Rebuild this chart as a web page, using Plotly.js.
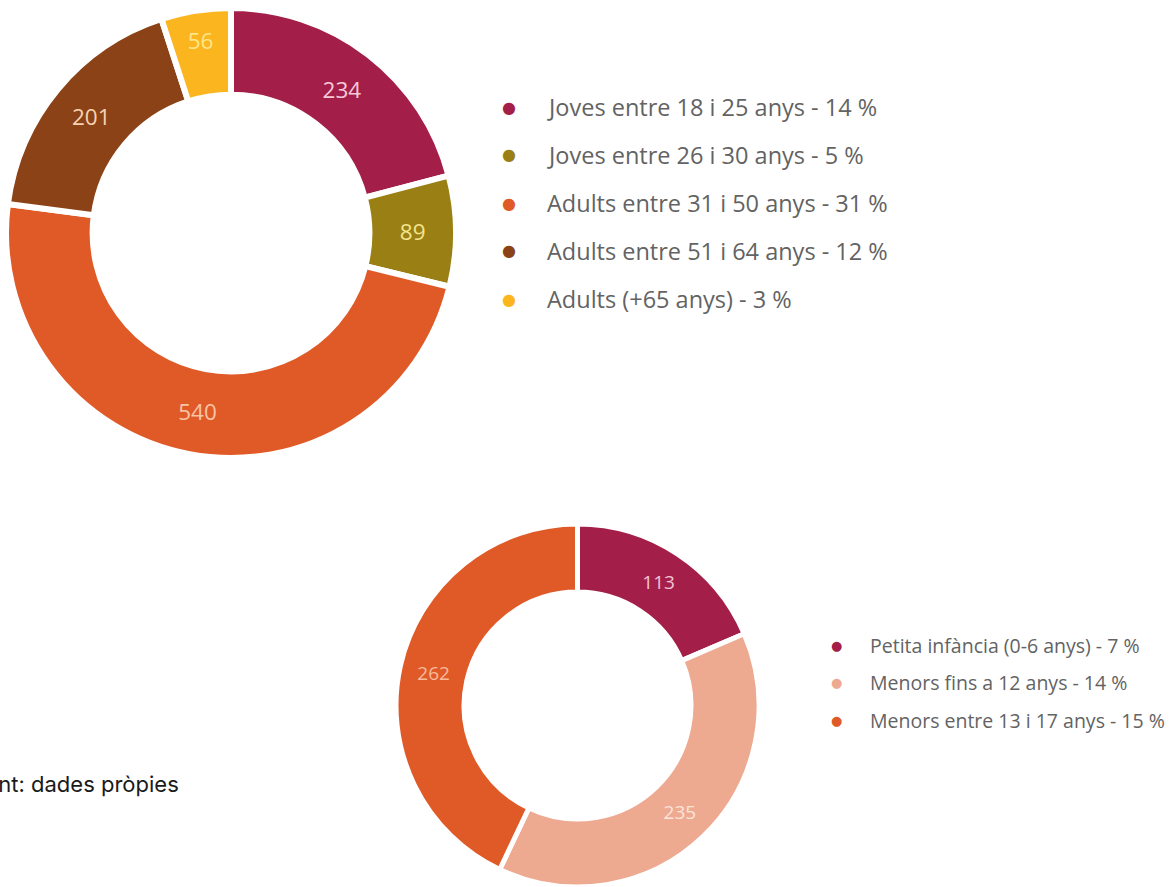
<!DOCTYPE html>
<html>
<head>
<meta charset="utf-8">
<script src="https://cdn.plot.ly/plotly-3.0.1.min.js"></script>
<style>
  html, body { margin: 0; padding: 0; background: #ffffff; }
  #chart { width: 1173px; height: 887px; }
</style>
</head>
<body>
<div id="chart"></div>
<script>
(function () {
    const W = 1173, H = 887;
    const fontFamily = '"Open Sans", Lato, sans-serif';

    // adults / youth chart
    const adultLabels = ['Joves entre 18 i 25 anys', 'Joves entre 26 i 30 anys', 'Adults entre 31 i 50 anys', 'Adults entre 51 i 64 anys', 'Adults (+65 anys)'];
    const adultValues = [234, 89, 540, 201, 56];
    const adultShares = ['14 %', '5 %', '31 %', '12 %', '3 %'];
    const adultColors = ['#a31f4a', '#9a8014', '#e05a28', '#8b4217', '#fbb51f'];
    const adultTextColors = ['#f7c9d7', '#f4e48e', '#f9c4a6', '#f6d2b2', '#fde58a'];

    // minors chart
    const minorLabels = ['Petita infància (0-6 anys)', 'Menors fins a 12 anys', 'Menors entre 13 i 17 anys'];
    const minorValues = [113, 235, 262];
    const minorShares = ['7 %', '14 %', '15 %'];
    const minorColors = ['#a31f4a', '#eea991', '#e05a28'];
    const minorTextColors = ['#f3c4d5', '#fbe4da', '#f7bb9c'];

    const px = x => x / W;
    const py = y => 1 - y / H;

    const pieBase = {
        type: 'pie',
        sort: false,
        direction: 'clockwise',
        rotation: 0,
        textinfo: 'value',
        textposition: 'inside',
        insidetextorientation: 'horizontal',
        hoverinfo: 'label+value',
        showlegend: false
    };

    const data = [
        Object.assign({}, pieBase, {
            labels: adultLabels,
            values: adultValues,
            hole: 0.615,
            marker: { colors: adultColors, line: { color: '#ffffff', width: 6 } },
            textfont: { family: fontFamily, size: 22.5, color: adultTextColors },
            domain: { x: [px(6), px(456)], y: [py(458), py(8)] }
        }),
        Object.assign({}, pieBase, {
            labels: minorLabels,
            values: minorValues,
            hole: 0.625,
            marker: { colors: minorColors, line: { color: '#ffffff', width: 5 } },
            textfont: { family: fontFamily, size: 19, color: minorTextColors },
            domain: { x: [px(395), px(760)], y: [0, py(524)] }
        })
    ];

    const annotations = [];
    const addLegend = (labels, shares, colors, dotX, textX, y0, step, size, dotSize) => {
        labels.forEach((label, i) => {
            const y = y0 + i * step;
            annotations.push({
                xref: 'paper', yref: 'paper', x: px(dotX), y: py(y),
                xanchor: 'center', yanchor: 'middle', showarrow: false,
                text: '●', font: { family: 'DejaVu Sans', size: dotSize, color: colors[i] }
            });
            annotations.push({
                xref: 'paper', yref: 'paper', x: px(textX), y: py(y),
                xanchor: 'left', yanchor: 'middle', showarrow: false,
                text: label + ' - ' + shares[i],
                font: { family: fontFamily, size: size, color: '#636363' }
            });
        });
    };
    addLegend(adultLabels, adultShares, adultColors, 509, 545, 107, 48, 23.5, 16);
    addLegend(minorLabels, minorShares, minorColors, 836, 868, 645, 37.5, 19.5, 13);

    annotations.push({
        xref: 'paper', yref: 'paper', x: px(181), y: py(784),
        xanchor: 'right', yanchor: 'middle', showarrow: false,
        text: 'Font: dades pròpies',
        font: { family: 'Inter, Roboto, sans-serif', size: 22, color: '#1a1a1a' }
    });

    const layout = {
        width: W,
        height: H,
        margin: { l: 0, r: 0, t: 0, b: 0 },
        paper_bgcolor: '#ffffff',
        plot_bgcolor: '#ffffff',
        font: { family: fontFamily },
        showlegend: false,
        annotations: annotations
    };

    Plotly.newPlot('chart', data, layout, { displayModeBar: false, responsive: false });
})();
</script>
</body>
</html>
